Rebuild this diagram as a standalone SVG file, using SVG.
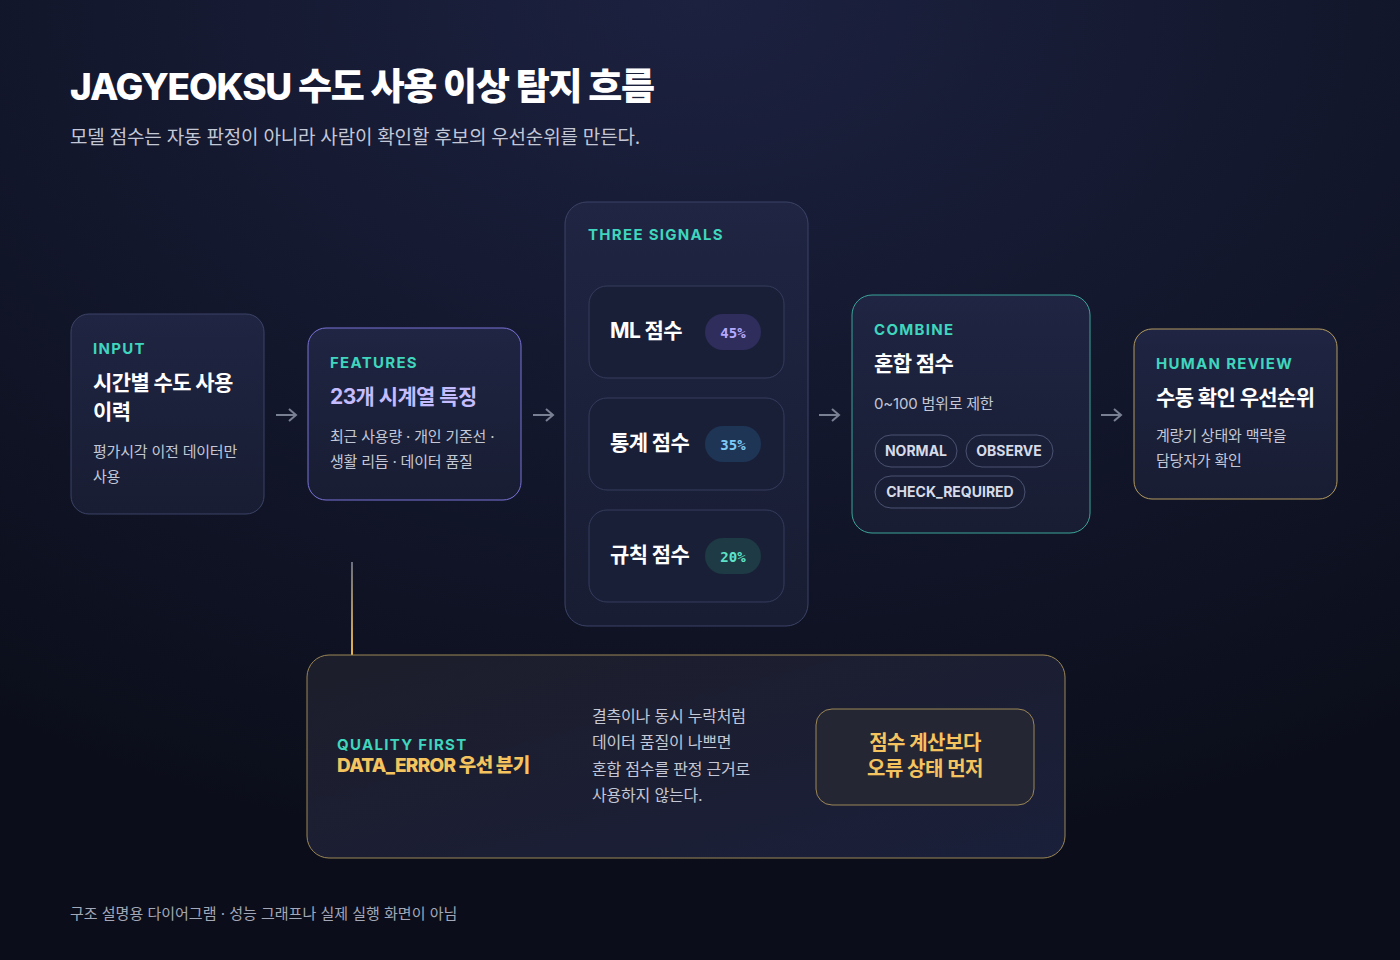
<svg xmlns="http://www.w3.org/2000/svg" width="1400" height="960" viewBox="0 0 1400 960">
<defs>
<radialGradient id="bg" cx="0.5" cy="0" r="0.9">
<stop offset="0" stop-color="#1c2140"/><stop offset="1" stop-color="#0b0e1a"/>
</radialGradient>
<linearGradient id="card" x1="0" y1="0" x2="0" y2="1">
<stop offset="0" stop-color="#1f2542"/><stop offset="1" stop-color="#181d33"/>
</linearGradient>
<linearGradient id="qcard" x1="0" y1="0" x2="1" y2="1">
<stop offset="0" stop-color="#1d1e2b"/><stop offset="1" stop-color="#1a1f3a"/>
</linearGradient>
<linearGradient id="vline" gradientUnits="userSpaceOnUse" x1="0" y1="562" x2="0" y2="655">
<stop offset="0" stop-color="#6b6f80"/><stop offset="1" stop-color="#e8b54a"/>
</linearGradient>
<marker id="ah" viewBox="0 0 14 14" refX="12" refY="7" markerWidth="14" markerHeight="14" markerUnits="userSpaceOnUse" orient="auto">
<path d="M5 1 L12 7 L5 13" fill="none" stroke="#7a8094" stroke-width="2"/>
</marker>
<style>
text{font-family:"Inter","Noto Sans CJK KR",sans-serif}
.lab{fill:#3fd6bd;font-size:15px;font-weight:700;letter-spacing:1.3px}
.ttl{fill:#ffffff;font-size:21px;font-weight:700;letter-spacing:-0.6px}
.sub{fill:#c3c7d6;font-size:15px;letter-spacing:-0.2px}
.chip{fill:none;stroke:#4a5270;stroke-width:1}
.chipt{fill:#d7dbe8;font-size:14px;font-weight:700}
.con{stroke:#7a8094;stroke-width:2;fill:none}
.pct{font-size:14px;font-weight:700;font-family:"DejaVu Sans Mono",monospace}
</style>
</defs>
<rect width="1400" height="960" fill="url(#bg)"/>
<text x="70" y="100" font-size="37" font-weight="800" fill="#ffffff" letter-spacing="-1.2">JAGYEOKSU 수도 사용 이상 탐지 흐름</text>
<text x="70" y="144" font-size="19" fill="#c3c7d6" letter-spacing="-0.2">모델 점수는 자동 판정이 아니라 사람이 확인할 후보의 우선순위를 만든다.</text>

<g id="connectors">
<path class="con" d="M276 415 H296" marker-end="url(#ah)"/>
<path class="con" d="M533 415 H553" marker-end="url(#ah)"/>
<path class="con" d="M819 415 H839" marker-end="url(#ah)"/>
<path class="con" d="M1101 415 H1121" marker-end="url(#ah)"/>
<line x1="352" y1="562" x2="352" y2="655" stroke="url(#vline)" stroke-width="2"/>
</g>

<g id="input">
<rect x="71" y="314" width="193" height="200" rx="18" fill="url(#card)" stroke="#3b4366"/>
<text class="lab" x="93" y="354">INPUT</text>
<text class="ttl" x="93" y="390">시간별 수도 사용</text>
<text class="ttl" x="93" y="419">이력</text>
<text class="sub" x="93" y="457">평가시각 이전 데이터만</text>
<text class="sub" x="93" y="482">사용</text>
</g>

<g id="features">
<rect x="308" y="328" width="213" height="172" rx="18" fill="url(#card)" stroke="#7b72d8"/>
<text class="lab" x="330" y="368">FEATURES</text>
<text class="ttl" x="330" y="404" style="fill:#c4bcff">23개 시계열 특징</text>
<text class="sub" x="330" y="442">최근 사용량 · 개인 기준선 ·</text>
<text class="sub" x="330" y="467">생활 리듬 · 데이터 품질</text>
</g>

<g id="signals">
<rect x="565" y="202" width="243" height="424" rx="22" fill="url(#card)" stroke="#3b4366"/>
<text class="lab" x="588" y="240">THREE SIGNALS</text>
<g id="ml">
<rect x="589" y="286" width="195" height="92" rx="18" fill="#1a1f38" stroke="#343c5c"/>
<text class="ttl" x="610" y="338">ML 점수</text>
<rect x="705" y="314" width="56" height="36" rx="18" fill="#2f2d5c"/>
<text class="pct" x="733" y="338" text-anchor="middle" fill="#b6aaff">45%</text>
</g>
<g id="stat">
<rect x="589" y="398" width="195" height="92" rx="18" fill="#1a1f38" stroke="#343c5c"/>
<text class="ttl" x="610" y="450">통계 점수</text>
<rect x="705" y="426" width="56" height="36" rx="18" fill="#1f3556"/>
<text class="pct" x="733" y="450" text-anchor="middle" fill="#7fcaf5">35%</text>
</g>
<g id="rule">
<rect x="589" y="510" width="195" height="92" rx="18" fill="#1a1f38" stroke="#343c5c"/>
<text class="ttl" x="610" y="562">규칙 점수</text>
<rect x="705" y="538" width="56" height="36" rx="18" fill="#1d3a45"/>
<text class="pct" x="733" y="562" text-anchor="middle" fill="#5fe3c8">20%</text>
</g>
</g>

<g id="combine">
<rect x="852" y="295" width="238" height="238" rx="20" fill="url(#card)" stroke="#3aa59a"/>
<text class="lab" x="874" y="335">COMBINE</text>
<text class="ttl" x="874" y="371">혼합 점수</text>
<text class="sub" x="874" y="409">0~100 범위로 제한</text>
<rect class="chip" x="875" y="435" width="82" height="32" rx="16"/>
<text class="chipt" x="916" y="456" text-anchor="middle">NORMAL</text>
<rect class="chip" x="966" y="435" width="87" height="32" rx="16"/>
<text class="chipt" x="1009" y="456" text-anchor="middle">OBSERVE</text>
<rect class="chip" x="875" y="476" width="150" height="32" rx="16"/>
<text class="chipt" x="950" y="497" text-anchor="middle">CHECK_REQUIRED</text>
</g>

<g id="review">
<rect x="1134" y="329" width="203" height="170" rx="18" fill="url(#card)" stroke="#b39a5e"/>
<text class="lab" x="1156" y="369">HUMAN REVIEW</text>
<text class="ttl" x="1156" y="405">수동 확인 우선순위</text>
<text class="sub" x="1156" y="441">계량기 상태와 맥락을</text>
<text class="sub" x="1156" y="466">담당자가 확인</text>
</g>

<g id="quality">
<rect x="307" y="655" width="758" height="203" rx="22" fill="url(#qcard)" stroke="#9c8756"/>
<text class="lab" x="337" y="750">QUALITY FIRST</text>
<text x="337" y="772" font-size="19" font-weight="800" fill="#f5c45e" letter-spacing="-0.7">DATA_ERROR 우선 분기</text>
<text class="sub" x="592" y="722" style="font-size:16px">결측이나 동시 누락처럼</text>
<text class="sub" x="592" y="748" style="font-size:16px">데이터 품질이 나쁘면</text>
<text class="sub" x="592" y="775" style="font-size:16px">혼합 점수를 판정 근거로</text>
<text class="sub" x="592" y="801" style="font-size:16px">사용하지 않는다.</text>
<rect x="816" y="709" width="218" height="96" rx="16" fill="#252634" stroke="#9c8756"/>
<text x="925" y="750" text-anchor="middle" font-size="20" font-weight="700" fill="#f5c45e" letter-spacing="-0.5">점수 계산보다</text>
<text x="925" y="776" text-anchor="middle" font-size="20" font-weight="700" fill="#f5c45e" letter-spacing="-0.5">오류 상태 먼저</text>
</g>

<text x="70" y="919" font-size="15" fill="#a3a8b8">구조 설명용 다이어그램 · 성능 그래프나 실제 실행 화면이 아님</text>
</svg>
